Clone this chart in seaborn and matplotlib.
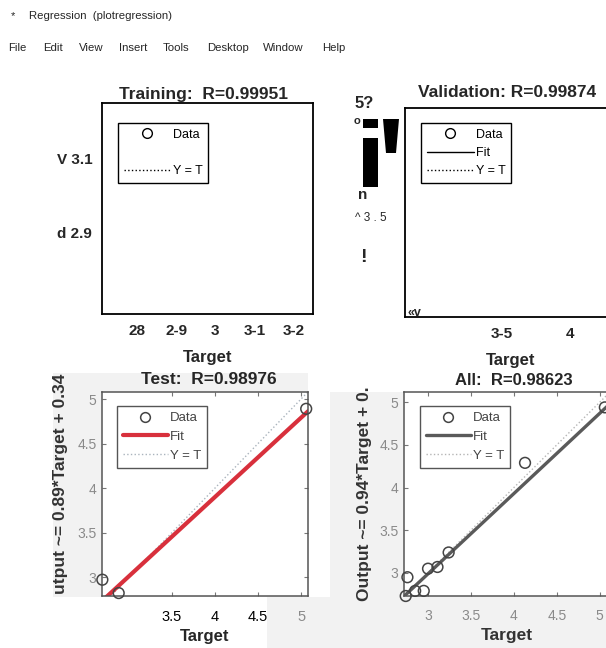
import matplotlib
matplotlib.use("Agg")
import matplotlib.pyplot as plt
import pandas as pd
import seaborn as sns
from matplotlib.lines import Line2D
from matplotlib.patches import Rectangle, Polygon

# ---------------- data ----------------
window_title = "Regression  (plotregression)"
menu_items = ["File", "Edit", "View", "Insert", "Tools", "Desktop", "Window", "Help"]
menu_x = [8, 43, 79, 119, 163, 207, 263, 322]

train_title = "Training:  R=0.99951"
train_xticks = [2.8, 2.9, 3.0, 3.1, 3.2]
train_xticklabels = ["28", "2-9", "3", "3-1", "3-2"]
train_yticks = [2.9, 3.1]
train_yticklabels = ["d 2.9", "V 3.1"]
train_xlim = [2.71, 3.25]
train_ylim = [2.68, 3.25]

val_title = "Validation: R=0.99874"
val_xticks = [3.5, 4.0]
val_xticklabels = ["3-5", "4"]
val_xlim = [2.787, 4.338]
val_ylim = [2.70, 4.30]

test_title = "Test:  R=0.98976"
test_target = [2.69, 2.88, 5.06]
test_output = [2.97, 2.82, 4.89]
test_slope, test_icpt = 0.89, 0.34
test_ylabel = "utput ~= 0.89*Target + 0.34"
test_xlim = [2.686, 5.081]
test_ylim = [2.787, 5.079]
test_xticks = [3.5, 4.0, 4.5, 5.0]
test_xticklabels = ["3.5", "4", "4.5", "5"]
test_yticks = [3.0, 3.5, 4.0, 4.5, 5.0]
test_yticklabels = ["3", "3.5", "4", "4.5", "5"]

all_title = "All:  R=0.98623"
all_target = [2.74, 2.76, 2.85, 2.95, 3.00, 3.11, 3.24, 4.13, 5.06]
all_output = [2.73, 2.95, 2.79, 2.79, 3.05, 3.07, 3.24, 4.29, 4.94]
all_slope, all_icpt = 0.94, 0.17
all_ylabel = "Output ~= 0.94*Target + 0."
all_xlim = [2.72, 5.12]
all_ylim = [2.73, 5.12]
all_xticks = [3.0, 3.5, 4.0, 4.5, 5.0]
all_xticklabels = ["3", "3.5", "4", "4.5", "5"]
all_yticks = [3.0, 3.5, 4.0, 4.5, 5.0]
all_yticklabels = ["3", "3.5", "4", "4.5", "5"]

legend_labels = ["Data", "Fit", "Y = T"]

# ---------------- style ----------------
sns.set_theme(style="white")
plt.rcParams["font.family"] = ["Liberation Sans", "DejaVu Sans"]

W, H = 606, 648
fig = plt.figure(figsize=(W / 100, H / 100), dpi=100)
fig.patch.set_facecolor("white")


def fx(x):
    return x / W


def fy(y):
    return 1 - y / H


def add_axes_px(x0, y0, x1, y1):
    return fig.add_axes([fx(x0), fy(y1), (x1 - x0) / W, (y1 - y0) / H])


def bg_rect(x0, y0, x1, y1, color):
    fig.patches.append(Rectangle((fx(x0), fy(y1)), (x1 - x0) / W, (y1 - y0) / H,
                                 transform=fig.transFigure, color=color,
                                 zorder=-5, lw=0))


GRAY_BG = "#f2f2f2"
bg_rect(53, 373, 308, 597, GRAY_BG)
bg_rect(330, 392, 606, 648, GRAY_BG)
bg_rect(267, 597, 606, 648, GRAY_BG)

# ---------------- window header ----------------
fig.text(fx(11), fy(16), "*", fontsize=8, ha="left", va="center")
fig.text(fx(29), fy(16), window_title, fontsize=8.2, ha="left", va="center")
for name, x in zip(menu_items, menu_x):
    fig.text(fx(x), fy(48), name, fontsize=8.2, ha="left", va="center")


def style_top(ax):
    for s in ax.spines.values():
        s.set_visible(True)
        s.set_color("black")
        s.set_linewidth(1.3)
    ax.set_facecolor("white")
    ax.tick_params(length=0, labelsize=11, pad=7)
    for t in ax.get_xticklabels() + ax.get_yticklabels():
        t.set_fontweight("bold")


def style_bottom(ax, color="#555555"):
    for s in ax.spines.values():
        s.set_visible(True)
        s.set_color(color)
        s.set_linewidth(1.1)
    ax.set_facecolor("white")
    ax.tick_params(direction="in", length=3, width=0.8, color="#777777",
                   labelsize=10, labelcolor="#8a8a8a",
                   top=True, right=True, bottom=True, left=True)


def make_legend(ax, handles, labels, anchor, edge="black", textcolor="black",
                fontsize=9.0, handlelength=3.8):
    leg = ax.legend(handles, labels, loc="upper left", bbox_to_anchor=anchor,
                    borderaxespad=0, frameon=True, fancybox=False, framealpha=1,
                    edgecolor=edge, fontsize=fontsize, handlelength=handlelength,
                    handletextpad=0.15, labelspacing=0.5, borderpad=0.45)
    leg.get_frame().set_linewidth(1.0)
    for t in leg.get_texts():
        t.set_color(textcolor)
    return leg


# ---------------- Training ----------------
ax1 = add_axes_px(102, 103, 313, 314)
ax1.set_xlim(train_xlim)
ax1.set_ylim(train_ylim)
ax1.set_xticks(train_xticks, train_xticklabels)
ax1.set_yticks(train_yticks, train_yticklabels)
style_top(ax1)
ax1.set_title(train_title, fontsize=12.5, fontweight="bold", pad=3, x=0.48)
ax1.set_xlabel("Target", fontsize=12, fontweight="bold", labelpad=9)
h_data_k = Line2D([], [], ls="none", marker="o", mfc="none", mec="black", ms=7, mew=1)
h_blank = Line2D([], [], ls="none")
h_yt_k = Line2D([], [], ls=":", color="black", lw=1)
h_fit_k = Line2D([], [], ls="-", color="black", lw=1)
make_legend(ax1, [h_data_k, h_blank, h_yt_k], [legend_labels[0], " ", legend_labels[2]],
            (0.076, 0.905))

# ---------------- Validation ----------------
ax2 = add_axes_px(405, 108, 616, 317)
ax2.set_xlim(val_xlim)
ax2.set_ylim(val_ylim)
ax2.set_xticks(val_xticks, val_xticklabels)
ax2.set_yticks([])
style_top(ax2)
ax2.set_title(val_title, fontsize=12.5, fontweight="bold", pad=8, x=0.486)
ax2.set_xlabel("Target", fontsize=12, fontweight="bold", labelpad=9)
make_legend(ax2, [h_data_k, h_fit_k, h_yt_k], legend_labels, (0.076, 0.928))

# garbled glyphs left of the validation panel
fig.text(fx(355), fy(103), "5?", fontsize=12, fontweight="bold", ha="left", va="center")
fig.text(fx(357), fy(121), "o", fontsize=8, fontweight="bold", ha="center", va="center")
for (x0, y0, x1, y1) in [(363, 119, 378, 128), (363, 138, 378, 187)]:
    fig.patches.append(Rectangle((fx(x0), fy(y1)), (x1 - x0) / W, (y1 - y0) / H,
                                 transform=fig.transFigure, color="black", lw=0))
fig.patches.append(Polygon([(fx(383), fy(119)), (fx(399), fy(119)),
                            (fx(396), fy(153)), (fx(386), fy(153))],
                           closed=True, transform=fig.transFigure, color="black", lw=0))
fig.text(fx(363), fy(195), "n", fontsize=11, fontweight="bold", ha="center", va="center")
fig.text(fx(355), fy(218), "^ 3 . 5", fontsize=8.5, ha="left", va="center")
fig.text(fx(363), fy(257), "!", fontsize=14, fontweight="bold", ha="center", va="center")
fig.text(fx(407), fy(313), "«v", fontsize=9, fontweight="bold", ha="left", va="center")

# ---------------- Test ----------------
ax3 = add_axes_px(102, 392, 308, 596)
test_df = pd.DataFrame({"Target": test_target, "Output": test_output})
yt_test = pd.DataFrame({"x": test_xlim, "y": test_xlim})
fit_test = pd.DataFrame({"x": test_xlim,
                         "y": [test_slope * v + test_icpt for v in test_xlim]})
sns.lineplot(data=yt_test, x="x", y="y", ax=ax3, color="#aab4bd", lw=1.0,
             linestyle=":")
sns.lineplot(data=fit_test, x="x", y="y", ax=ax3, color="#d8303c", lw=3.0)
sns.scatterplot(data=test_df, x="Target", y="Output", ax=ax3, marker="o", s=60,
                color="#444444", facecolor="none", edgecolor="#444444",
                linewidth=1.1, clip_on=False, zorder=5)
ax3.set_xlim(test_xlim)
ax3.set_ylim(test_ylim)
ax3.set_xticks(test_xticks, test_xticklabels)
ax3.set_yticks(test_yticks, test_yticklabels)
style_bottom(ax3)
ax3.tick_params(axis="x", pad=10, labelsize=10.5)
for t in ax3.get_xticklabels()[:3]:
    t.set_color("black")
ax3.tick_params(axis="y", pad=4)
ax3.set_title(test_title, fontsize=12.5, fontweight="bold", pad=6, x=0.52)
ax3.set_xlabel("Target", fontsize=12, fontweight="bold", labelpad=4)
ax3.set_ylabel(test_ylabel, fontsize=12.5, fontweight="bold", color="#333333")
ax3.yaxis.set_label_coords(-0.165, 0.55)
h_data_g = Line2D([], [], ls="none", marker="o", mfc="none", mec="#444444", ms=7, mew=1.1)
h_fit_r = Line2D([], [], ls="-", color="#d8303c", lw=3)
h_yt_g = Line2D([], [], ls=":", color="#aab4bd", lw=1)
make_legend(ax3, [h_data_g, h_fit_r, h_yt_g], legend_labels, (0.073, 0.931),
            edge="#555555", textcolor="#444444", fontsize=9.5, handlelength=3.4)

# ---------------- All ----------------
ax4 = add_axes_px(404, 392, 610, 596)
all_df = pd.DataFrame({"Target": all_target, "Output": all_output})
yt_all = pd.DataFrame({"x": all_xlim, "y": all_xlim})
fit_all = pd.DataFrame({"x": all_xlim,
                        "y": [all_slope * v + all_icpt for v in all_xlim]})
sns.lineplot(data=yt_all, x="x", y="y", ax=ax4, color="#b5b5b5", lw=1.0,
             linestyle=":")
sns.lineplot(data=fit_all, x="x", y="y", ax=ax4, color="#5a5a5a", lw=2.4)
sns.scatterplot(data=all_df, x="Target", y="Output", ax=ax4, marker="o", s=60,
                color="#444444", facecolor="none", edgecolor="#444444",
                linewidth=1.1, clip_on=False, zorder=5)
ax4.set_xlim(all_xlim)
ax4.set_ylim(all_ylim)
ax4.set_xticks(all_xticks, all_xticklabels)
ax4.set_yticks(all_yticks, all_yticklabels)
style_bottom(ax4)
ax4.tick_params(axis="x", pad=9)
ax4.tick_params(axis="y", pad=4)
ax4.set_title(all_title, fontsize=12, fontweight="bold", pad=5, x=0.534)
ax4.set_xlabel("Target", fontsize=12.5, fontweight="bold", color="#333333", labelpad=4)
ax4.set_ylabel(all_ylabel, fontsize=12.5, fontweight="bold", color="#333333")
ax4.yaxis.set_label_coords(-0.155, 0.5)
h_fit_d = Line2D([], [], ls="-", color="#5a5a5a", lw=2.4)
h_yt_l = Line2D([], [], ls=":", color="#b5b5b5", lw=1)
make_legend(ax4, [h_data_g, h_fit_d, h_yt_l], legend_labels, (0.078, 0.931),
            edge="#555555", textcolor="#444444", fontsize=9.5, handlelength=3.4)

fig.savefig("out.png", dpi=100, facecolor="white")
